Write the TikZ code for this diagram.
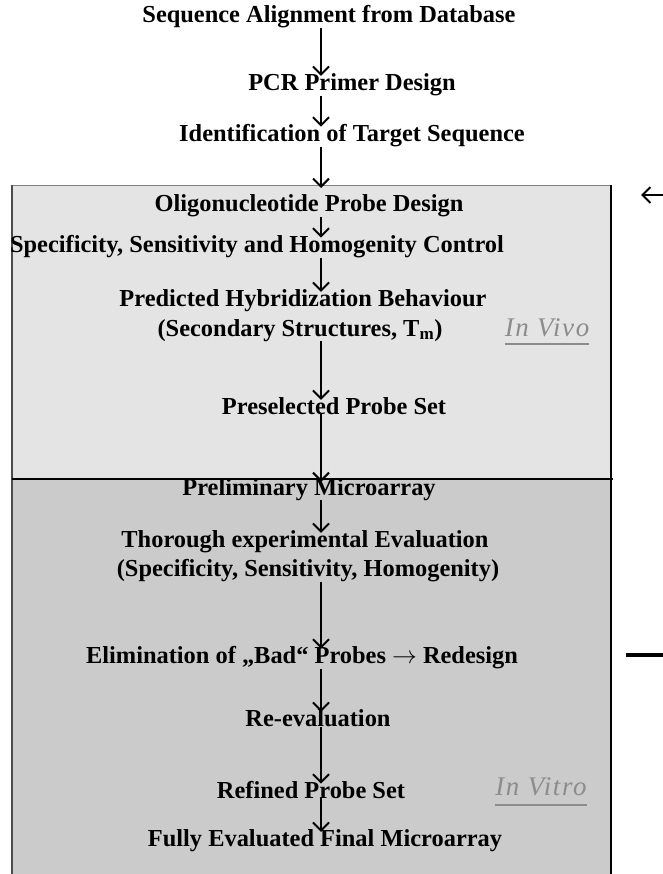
\documentclass[tikz,border=0pt]{standalone}
\usepackage{fontspec}
\setmainfont{Liberation Serif}
\usetikzlibrary{arrows.meta}
\definecolor{vivofill}{HTML}{E4E4E4}
\definecolor{vitrofill}{HTML}{CBCBCB}
\definecolor{taggray}{HTML}{8C8C8C}
\tikzset{
  stage/.style={font=\bfseries\fontsize{24.5}{28}\selectfont, inner sep=0pt, anchor=base},
  tag/.style={font=\itshape\fontsize{27}{30}\selectfont\addfontfeatures{LetterSpace=6}, text=taggray, inner sep=0pt, anchor=base},
  tagline/.style={taggray, line width=2.6bp},
  flow/.style={line width=2bp, shorten >=-3bp, -{Straight Barb[length=8bp,width=16bp,line width=2bp]}},
}

\begin{document}
\begin{tikzpicture}[x=1bp, y=-1bp]
				\useasboundingbox (0,0) rectangle (663,874);
				% the two phases
				\fill[vivofill](12,185) rectangle (611,479);
				\fill[vitrofill](12,479) rectangle (611,880);
				\draw[gray, line width=0.8bp](12,185)--(611,185);
				\draw[black!70, line width=2bp](12,185)--(12,880);
				\draw[black, line width=1.4bp](611,185)--(611,880);
				\draw[black, line width=1.4bp](12,479)--(613,479);
				%
				\coordinate (ax) at (321,0);
				\node[stage] (seq) at (329,22) {Sequence Alignment from Database};
				\node[stage] (pcr) at (352,90) {PCR Primer Design};
				\node[stage] (ident) at (352,141) {Identification of Target Sequence};
				\coordinate (vivotop) at (321,185);
				\node[stage] (oligo) at (309,211) {Oligonucleotide Probe Design};
				\node[stage] (spec) at (257,252) {Specificity, Sensitivity and Homogenity Control};
				\node[stage] (pred) at (303,306) {Predicted Hybridization Behaviour};
				\node[stage] (sec) at (300,336) {(Secondary Structures, T\textsubscript{m})};
				\node[stage] (presel) at (334,414) {Preselected Probe Set};
				\coordinate (vitrotop) at (321,479);
				\node[stage] (prelim) at (309,495) {Preliminary Microarray};
				\node[stage] (thor) at (305,547) {Thorough experimental Evaluation};
				\node[stage] (crit) at (308,576) {(Specificity, Sensitivity, Homogenity)};
				\node[stage] (elim) at (302,663) {Elimination of „Bad“ Probes $\rightarrow$ Redesign};
				\node[stage] (reeval) at (318,726) {Re-evaluation};
				\node[stage] (refined) at (311,798) {Refined Probe Set};
				\node[stage] (final) at (325,846) {Fully Evaluated Final Microarray};
				%
				\node[tag] (vivo) at (547,336) {In Vivo};
				\node[tag] (vitro) at (541,795) {In Vitro};
				\draw[tagline]([yshift=-8bp]vivo.base west)--([yshift=-8bp]vivo.base east);
				\draw[tagline]([yshift=-10bp]vitro.base west)--([yshift=-10bp]vitro.base east);
				%
				\draw[flow](seq.south -| ax)--(pcr.north -| ax);
				\draw[flow](pcr.south -| ax)--(ident.north -| ax);
				\draw[flow](ident.south -| ax)--(vivotop);
				\draw[flow](oligo.south -| ax)--(spec.north -| ax);
				\draw[flow](spec.south -| ax)--(pred.north -| ax);
				\draw[flow](sec.south -| ax)--(presel.north -| ax);
				\draw[flow](presel.south -| ax)--(vitrotop);
				\draw[flow](prelim.south -| ax)--(thor.north -| ax);
				\draw[flow](crit.south -| ax)--(elim.north -| ax);
				\draw[flow](elim.south -| ax)--(reeval.north -| ax);
				\draw[flow](reeval.south -| ax)--(refined.north -| ax);
				\draw[flow](refined.south -| ax)--(final.north -| ax);
				% redesign loop, leaving the picture on the right
				\coordinate (loopout) at (626,655);
				\coordinate (loopin) at (641,195);
				\draw[line width=3.5bp](loopout)--++(80,0);
				\draw[line width=2bp, -{Straight Barb[length=8bp,width=16bp,line width=2bp]}](700,195)--(loopin);
			\end{tikzpicture}
\end{document}
